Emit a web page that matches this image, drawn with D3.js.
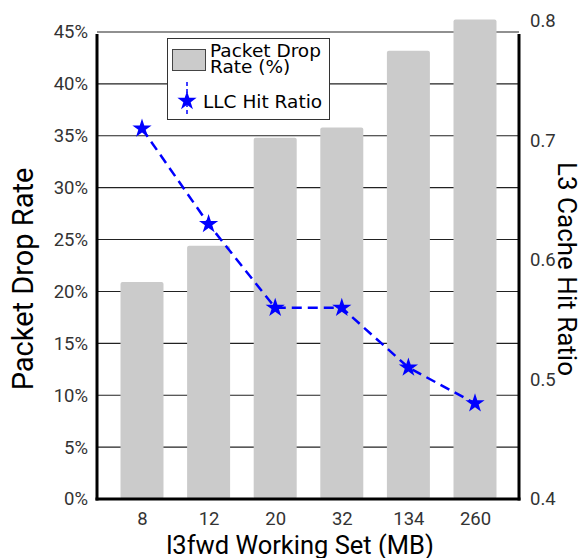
<!DOCTYPE html>
<html><head><meta charset="utf-8">
<script src="https://cdn.jsdelivr.net/npm/d3@7"></script>
<style>body{margin:0;background:#fff}svg{display:block}</style>
</head><body>
<svg id="c" width="587" height="558"></svg>
<script>
const categories = ["8","12","20","32","134","260"];
const dropRate = [20.9, 24.4, 34.8, 35.8, 43.2, 46.2];
const hitRatio = [0.71, 0.63, 0.56, 0.56, 0.51, 0.48];
const leftTicks = [0,5,10,15,20,25,30,35,40,45];
const rightTicks = [0.4,0.5,0.6,0.7,0.8];

const svg = d3.select("#c");
const L = 97, R = 519, B = 499, T = 32;
const x = d3.scalePoint().domain(categories).range([142, 475]);
const yL = d3.scaleLinear().domain([0,45]).range([B, T]);
const yR = d3.scaleLinear().domain([0.4,0.8]).range([B, 21]);
const tickFont = "Roboto, 'Liberation Sans', sans-serif";
const tickSize = 18.5;

// gridlines
svg.append("g").selectAll("line").data(leftTicks).join("line")
  .attr("x1", L).attr("x2", R).attr("y1", d=>yL(d)).attr("y2", d=>yL(d))
  .attr("stroke", "#222").attr("stroke-width", 1.1);

// bars
const bw = 43;
svg.append("g").selectAll("rect").data(dropRate).join("rect")
  .attr("x", (d,i)=>x(categories[i]) - bw/2).attr("width", bw)
  .attr("y", d=>yL(d)).attr("height", d=>B - yL(d))
  .attr("rx", 2).attr("fill", "#cbcbcb");

// spines
svg.append("line").attr("x1", L).attr("x2", L).attr("y1", 34).attr("y2", B+1.5).attr("stroke","#000").attr("stroke-width",3);
svg.append("line").attr("x1", R).attr("x2", R).attr("y1", 34).attr("y2", B+1.5).attr("stroke","#000").attr("stroke-width",3);
svg.append("line").attr("x1", L-1.5).attr("x2", R+1.5).attr("y1", B).attr("y2", B).attr("stroke","#000").attr("stroke-width",3);

// left axis labels
const la = svg.append("g").attr("transform", `translate(${L-9},0)`)
  .call(d3.axisLeft(yL).tickValues(leftTicks).tickFormat(d=>d+"%").tickSize(0).tickPadding(0));
la.select(".domain").remove();
la.selectAll("text").attr("font-family", tickFont).attr("font-size", tickSize).attr("fill", "#333");

// right axis labels
const ra = svg.append("g").attr("transform", `translate(${R+11},0)`)
  .call(d3.axisRight(yR).tickValues(rightTicks).tickFormat(d3.format(".1f")).tickSize(0).tickPadding(0));
ra.select(".domain").remove();
ra.selectAll("text").attr("font-family", tickFont).attr("font-size", tickSize).attr("fill", "#333");

// x axis labels
const xa = svg.append("g").attr("transform", `translate(0,${B+13})`)
  .call(d3.axisBottom(x).tickSize(0).tickPadding(0));
xa.select(".domain").remove();
xa.selectAll("text").attr("font-family", tickFont).attr("font-size", tickSize).attr("fill", "#333");

// line
const line = d3.line().x((d,i)=>x(categories[i])).y(d=>yR(d));
svg.append("path").datum(hitRatio).attr("d", line)
  .attr("fill","none").attr("stroke","#0000ff").attr("stroke-width",2.5)
  .attr("stroke-dasharray","10,6");
const star = d3.symbol().type(d3.symbolStar).size(115);
svg.append("g").selectAll("path").data(hitRatio).join("path")
  .attr("transform",(d,i)=>`translate(${x(categories[i])},${yR(d)})`)
  .attr("d", star).attr("fill","#0000ff");

// axis titles
const titleFont = "Roboto, 'Liberation Sans', sans-serif";
svg.append("text").attr("transform","translate(33,279) rotate(-90)")
  .attr("text-anchor","middle").attr("font-family",titleFont).attr("font-size",29).attr("fill","#000")
  .text("Packet Drop Rate");
svg.append("text").attr("transform","translate(558,269) rotate(90)")
  .attr("text-anchor","middle").attr("font-family",titleFont).attr("font-size",26).attr("fill","#000")
  .text("L3 Cache Hit Ratio");
svg.append("text").attr("x",300).attr("y",554)
  .attr("text-anchor","middle").attr("font-family",titleFont).attr("font-size",25.5).attr("fill","#000")
  .text("l3fwd Working Set (MB)");

// legend
const lg = svg.append("g");
const legFont = "'DejaVu Sans', sans-serif";
lg.append("rect").attr("x",167.5).attr("y",38.5).attr("width",162).attr("height",81)
  .attr("fill","#fff").attr("stroke","#333").attr("stroke-width",1);
lg.append("rect").attr("x",172.5).attr("y",49.5).attr("width",33).attr("height",21)
  .attr("fill","#cbcbcb").attr("stroke","#444").attr("stroke-width",1);
lg.append("text").attr("x",210).attr("y",57).attr("font-family",legFont).attr("font-size",18.5).attr("fill","#000").text("Packet Drop");
lg.append("text").attr("x",210).attr("y",73).attr("font-family",legFont).attr("font-size",18.5).attr("fill","#000").text("Rate (%)");
lg.append("line").attr("x1",187).attr("x2",187).attr("y1",82).attr("y2",115)
  .attr("stroke","#0000ff").attr("stroke-width",1.5).attr("stroke-dasharray","4,3");
lg.append("path").attr("transform","translate(187,101)").attr("d", star).attr("fill","#0000ff");
lg.append("text").attr("x",203).attr("y",108).attr("font-family",legFont).attr("font-size",18.5).attr("fill","#000").text("LLC Hit Ratio");
</script>
</body></html>
